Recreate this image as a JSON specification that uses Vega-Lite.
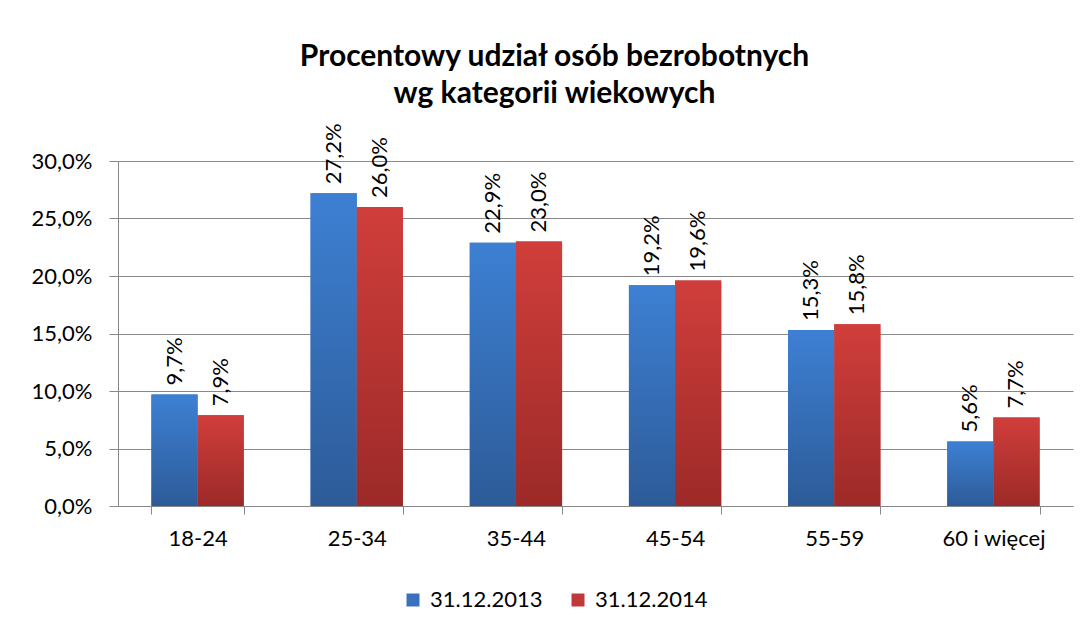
{
  "$schema": "https://vega.github.io/schema/vega-lite/v6.json",
  "width": 955,
  "height": 345,
  "autosize": "none",
  "padding": {"left": 118, "top": 161, "right": 16, "bottom": 124},
  "background": "white",
  "config": {
    "locale": {"number": {"decimal": ",", "thousands": " ", "grouping": [3], "currency": ["", " zł"]}},
    "font": "Lato",
    "view": {"stroke": null}
  },
  "title": {
    "text": ["Procentowy udział osób bezrobotnych", "wg kategorii wiekowych"],
    "fontSize": 30,
    "fontWeight": "bold",
    "font": "Lato",
    "color": "black",
    "anchor": "middle",
    "frame": "group",
    "dx": -41,
    "offset": 14,
    "lineHeight": 37
  },
  "data": {
    "values": [
      {"age": "18-24", "series": "31.12.2013", "value": 0.097},
      {"age": "18-24", "series": "31.12.2014", "value": 0.079},
      {"age": "25-34", "series": "31.12.2013", "value": 0.272},
      {"age": "25-34", "series": "31.12.2014", "value": 0.260},
      {"age": "35-44", "series": "31.12.2013", "value": 0.229},
      {"age": "35-44", "series": "31.12.2014", "value": 0.230},
      {"age": "45-54", "series": "31.12.2013", "value": 0.192},
      {"age": "45-54", "series": "31.12.2014", "value": 0.196},
      {"age": "55-59", "series": "31.12.2013", "value": 0.153},
      {"age": "55-59", "series": "31.12.2014", "value": 0.158},
      {"age": "60 i więcej", "series": "31.12.2013", "value": 0.056},
      {"age": "60 i więcej", "series": "31.12.2014", "value": 0.077}
    ]
  },
  "encoding": {
    "x": {
      "field": "age",
      "type": "nominal",
      "sort": null,
      "scale": {"paddingInner": 0.42, "paddingOuter": 0.21},
      "axis": {
        "title": null,
        "labelAngle": 0,
        "labelFontSize": 22,
        "labelColor": "black",
        "labelFont": "Lato",
        "labelPadding": 14,
        "tickBand": "extent",
        "tickSize": 8,
        "tickColor": "#888888",
        "domainColor": "#888888",
        "grid": false
      }
    },
    "xOffset": {"field": "series", "type": "nominal", "scale": {"paddingInner": 0}},
    "y": {
      "field": "value",
      "type": "quantitative",
      "scale": {"domain": [0, 0.3], "nice": false},
      "axis": {
        "title": null,
        "format": ".1%",
        "values": [0, 0.05, 0.1, 0.15, 0.2, 0.25, 0.3],
        "labelFontSize": 22,
        "labelColor": "black",
        "labelFont": "Lato",
        "labelPadding": 17,
        "tickSize": 9,
        "tickColor": "#888888",
        "domainColor": "#888888",
        "gridColor": "#888888",
        "grid": true
      }
    }
  },
  "layer": [
    {
      "mark": {"type": "bar"},
      "encoding": {
        "color": {
          "field": "series",
          "type": "nominal",
          "scale": {"range": ["#3A70BE", "#C0393A"]},
          "legend": {
            "title": null,
            "orient": "none",
            "direction": "horizontal",
            "legendX": 284,
            "legendY": 428,
            "padding": 0,
            "symbolType": "square",
            "symbolSize": 169,
            "symbolStrokeWidth": 0,
            "labelFontSize": 22,
            "labelFont": "Lato",
            "labelColor": "black",
            "labelOffset": 6,
            "columnPadding": 24
          }
        }
      }
    },
    {
      "mark": {"type": "bar"},
      "encoding": {
        "fill": {
          "condition": {
            "test": "datum.series === '31.12.2013'",
            "value": {"gradient": "linear", "x1": 0, "y1": 0, "x2": 0, "y2": 1, "stops": [{"offset": 0, "color": "#3D80D3"}, {"offset": 1, "color": "#2D5B98"}]}
          },
          "value": {"gradient": "linear", "x1": 0, "y1": 0, "x2": 0, "y2": 1, "stops": [{"offset": 0, "color": "#D03E3B"}, {"offset": 1, "color": "#9C2A28"}]}
        }
      }
    },
    {
      "mark": {"type": "text", "angle": 270, "align": "left", "baseline": "middle", "dx": 9, "fontSize": 22, "font": "Lato", "color": "black"},
      "encoding": {
        "text": {"field": "value", "type": "quantitative", "format": ".1%"}
      }
    }
  ]
}
